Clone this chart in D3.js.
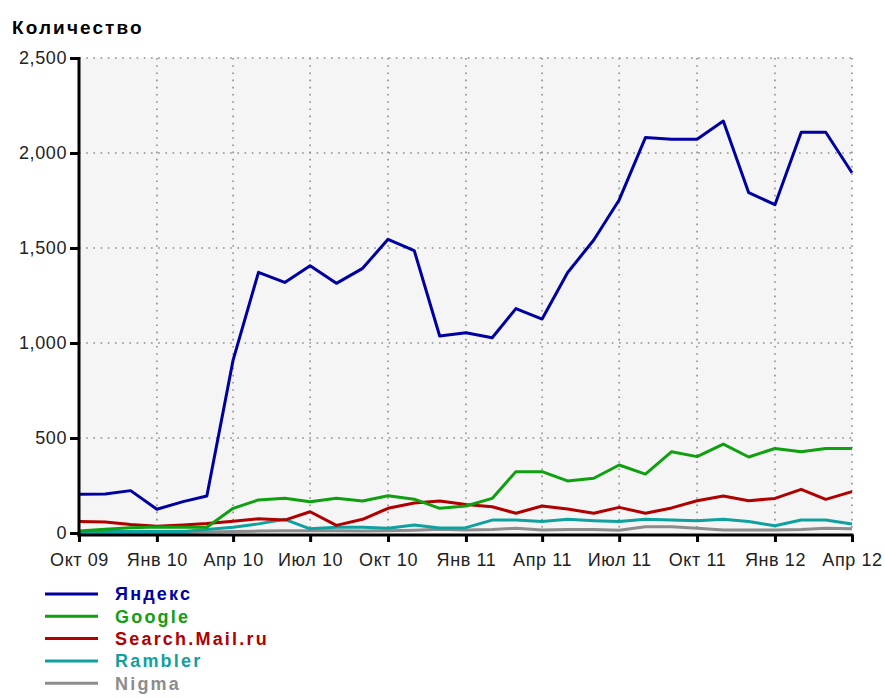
<!DOCTYPE html>
<html>
<meta charset="utf-8">
<title>Количество</title>
<style>
    body { margin: 0; background: #fff; }
    svg { font-family: "Liberation Sans", Arial, sans-serif; }
    .grid line { stroke: #8c8c8c; stroke-width: 1.6px; stroke-dasharray: 1.6, 5.6; }
    .axis path, .axis line { stroke: #000; stroke-width: 3px; }
    .axis text { font-size: 18px; fill: #222; letter-spacing: 0.6px; }
    .line { fill: none; stroke-width: 3px; stroke-linejoin: round; }
</style>
<script src="https://cdn.jsdelivr.net/npm/d3@7"></script>
<body>
<script>
    // months Oct 2009 .. Apr 2012
    const months = d3.timeMonths(new Date(2009, 9, 1), new Date(2012, 3, 2))

    const yandex = [204, 205, 223, 125, 165, 195, 910, 1372, 1319, 1407, 1314, 1393, 1546,
        1486, 1037, 1054, 1028, 1181, 1126, 1370, 1542, 1753, 2081, 2072, 2072, 2168, 1791, 1728, 2109, 2109, 1896]
    const google = [11, 20, 28, 32, 30, 30, 130, 174, 183, 165, 183, 168, 196,
        178, 130, 142, 182, 323, 323, 274, 288, 358, 310, 428, 402, 468, 400, 445, 428, 445, 445]
    const mail = [60, 58, 45, 35, 42, 50, 62, 75, 68, 112, 40, 72, 130,
        158, 168, 150, 138, 104, 142, 126, 104, 135, 104, 132, 170, 195, 170, 182, 230, 177, 218]
    const rambler = [8, 8, 8, 8, 8, 18, 30, 48, 72, 22, 30, 30, 25,
        42, 26, 28, 68, 68, 60, 72, 65, 60, 72, 68, 65, 72, 60, 38, 68, 68, 47]
    const nigma = [0, 0, 0, 2, 3, 5, 8, 10, 12, 12, 12, 10, 12,
        15, 20, 16, 19, 25, 16, 18, 18, 14, 33, 33, 25, 16, 16, 16, 18, 25, 22]

    const seriesNames = ["Яндекс", "Google", "Search.Mail.ru", "Rambler", "Nigma"]
    const seriesColors = ["#0000a0", "#0fa00f", "#b00000", "#0fa0a0", "#8c8c8c"]
    const seriesValues = [yandex, google, mail, rambler, nigma]

    const yTicks = [0, 500, 1000, 1500, 2000, 2500]
    const xTickDates = d3.timeMonths(new Date(2009, 9, 1), new Date(2012, 3, 2), 3)
    const xTickLabels = ["Окт 09", "Янв 10", "Апр 10", "Июл 10", "Окт 10", "Янв 11",
        "Апр 11", "Июл 11", "Окт 11", "Янв 12", "Апр 12"]

    const W = 885, H = 698
    const plot = { left: 79, right: 852, top: 58, bottom: 533 }

    const svg = d3.select("body").append("svg").attr("width", W).attr("height", H)

    const x = d3.scaleTime().domain([months[0], months[months.length - 1]]).range([plot.left, plot.right])
    const y = d3.scaleLinear().domain([0, 2500]).range([plot.bottom, plot.top])

    svg.append("rect")
        .attr("x", plot.left).attr("y", plot.top)
        .attr("width", plot.right - plot.left).attr("height", plot.bottom - plot.top)
        .attr("fill", "#f5f5f5")

    // dotted grid
    const grid = svg.append("g").attr("class", "grid")
    grid.selectAll(".h").data(yTicks.slice(1)).join("line")
        .attr("x1", plot.left).attr("x2", plot.right)
        .attr("y1", d => y(d)).attr("y2", d => y(d))
    grid.selectAll(".v").data(xTickDates.slice(1)).join("line")
        .attr("x1", d => x(d)).attr("x2", d => x(d))
        .attr("y1", plot.top).attr("y2", plot.bottom)

    // lines, bottom series first
    const line = d3.line().x((d, i) => x(months[i])).y(d => y(d))
    const order = [4, 3, 2, 1, 0]
    svg.append("g").selectAll("path").data(order).join("path")
        .attr("class", "line")
        .attr("stroke", i => seriesColors[i])
        .attr("d", i => line(seriesValues[i]))

    // axes
    svg.append("g").attr("class", "axis")
        .attr("transform", `translate(0,535)`)
        .call(d3.axisBottom(x).tickValues(xTickDates).tickSize(7).tickSizeOuter(0).tickPadding(11)
            .tickFormat((d, i) => xTickLabels[i]))
        .call(g => g.select(".domain").attr("d", `M${plot.left - 1.5},0H${plot.right + 1.5}`))

    svg.append("g").attr("class", "axis")
        .attr("transform", `translate(${plot.left},0)`)
        .call(d3.axisLeft(y).tickValues(yTicks).tickSize(9).tickPadding(3).tickSizeOuter(0)
            .tickFormat(d3.format(",")))
        .call(g => g.select(".domain").attr("d", `M0,${plot.top - 1}V536.5`))

    svg.append("text")
        .attr("x", 12).attr("y", 34)
        .attr("font-size", 19).attr("font-weight", "bold")
        .attr("letter-spacing", 2.1)
        .text("Количество")

    // legend
    const legend = svg.append("g").selectAll("g").data(seriesNames).join("g")
        .attr("transform", (d, i) => `translate(0,${594 + i * 22.3})`)
    legend.append("line")
        .attr("x1", 45).attr("x2", 98)
        .attr("stroke", (d, i) => seriesColors[i]).attr("stroke-width", 3)
    legend.append("text")
        .attr("x", 115).attr("dy", "0.36em")
        .attr("font-size", 18).attr("font-weight", "bold")
        .attr("letter-spacing", 2.2)
        .attr("fill", (d, i) => seriesColors[i])
        .text(d => d)
</script>
</body>
</html>
